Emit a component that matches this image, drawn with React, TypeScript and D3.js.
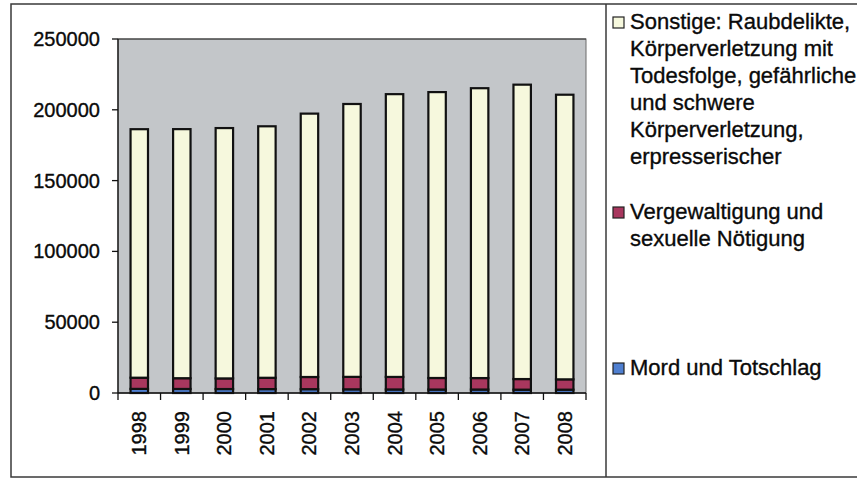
import React from "react";
import * as d3 from "d3";

const years = ["1998", "1999", "2000", "2001", "2002", "2003", "2004", "2005", "2006", "2007", "2008"];
const mord = [2900, 2850, 2800, 2750, 2700, 2600, 2500, 2450, 2450, 2350, 2350];
const vergewaltigung = [7900, 7600, 7500, 8000, 8600, 8800, 8850, 8150, 8100, 7500, 7300];
const sonstige = [175500, 175900, 176800, 177600, 186000, 192700, 199700, 201900, 204700, 207900, 201000];
const yTicks = [0, 50000, 100000, 150000, 200000, 250000];
const seriesKeys = ["mord", "vergewaltigung", "sonstige"];
const seriesColors: Record<string, string> = {
  mord: "#4f7fd0",
  vergewaltigung: "#a8375e",
  sonstige: "#f6f8dd",
};
const legendItems = [
  {
    key: "sonstige",
    lines: [
      "Sonstige: Raubdelikte,",
      "Körperverletzung mit",
      "Todesfolge, gefährliche",
      "und schwere",
      "Körperverletzung,",
      "erpresserischer",
    ],
  },
  { key: "vergewaltigung", lines: ["Vergewaltigung und", "sexuelle Nötigung"] },
  { key: "mord", lines: ["Mord und Totschlag"] },
];

const W = 857;
const H = 479;
const plot = { left: 118, right: 586, top: 39, bottom: 393 };
const FONT = "'Liberation Sans', Arial, Helvetica, sans-serif";

export default function App() {
  const rows = years.map((y, i) => ({
    year: y,
    mord: mord[i],
    vergewaltigung: vergewaltigung[i],
    sonstige: sonstige[i],
  }));
  const stacked = d3.stack<any>().keys(seriesKeys)(rows);

  const x = d3.scaleBand<string>().domain(years).range([plot.left, plot.right]).padding(0);
  const y = d3.scaleLinear().domain([0, 250000]).range([plot.bottom, plot.top]);
  const barW = x.bandwidth() * 0.41;

  const legendStartX = 613;
  const lineH = 27;
  const legendBaselines = [29, 219, 375];
  const textStyle = { fill: "#0a0a0a", stroke: "#0a0a0a", strokeWidth: 0.35 };

  return (
    <svg
      width={W}
      height={H}
      style={{ position: "absolute", left: 0, top: 0, background: "#ffffff" }}
      fontFamily={FONT}
    >
      <rect x={0} y={0} width={W} height={H} fill="#ffffff" />
      {/* outer frame */}
      <rect x={11} y={4} width={850} height={473} fill="none" stroke="#3a3a3a" strokeWidth={1.5} />
      <line x1={606} x2={606} y1={4} y2={477} stroke="#3a3a3a" strokeWidth={1.5} />

      {/* plot area */}
      <rect
        x={plot.left}
        y={plot.top}
        width={plot.right - plot.left}
        height={plot.bottom - plot.top}
        fill="#c3c6c9"
        stroke="#6a6a6a"
        strokeWidth={1}
      />
      <line x1={plot.left} x2={plot.right} y1={plot.top} y2={plot.top} stroke="#333" strokeWidth={1.2} />

      {/* bars */}
      {stacked.map((s) => (
        <g key={s.key}>
          {s.map((d, i) => (
            <rect
              key={i}
              x={(x(years[i]) as number) + (x.bandwidth() - barW) / 2}
              y={y(d[1])}
              width={barW}
              height={Math.max(0, y(d[0]) - y(d[1]))}
              fill={seriesColors[s.key]}
              stroke="#111"
              strokeWidth={2.2}
            />
          ))}
        </g>
      ))}

      {/* y axis */}
      <line x1={plot.left} x2={plot.left} y1={plot.top} y2={plot.bottom} stroke="#111" strokeWidth={1.3} />
      {yTicks.map((t) => (
        <g key={t}>
          <line x1={plot.left - 6} x2={plot.left} y1={y(t)} y2={y(t)} stroke="#111" strokeWidth={1.3} />
          <text
            x={100}
            y={y(t)}
            textAnchor="end"
            dominantBaseline="central"
            fontSize={20}
            {...textStyle}
          >
            {t}
          </text>
        </g>
      ))}

      {/* x axis */}
      <line x1={plot.left} x2={plot.right} y1={plot.bottom} y2={plot.bottom} stroke="#111" strokeWidth={1.3} />
      {years.concat(["__end"]).map((yr, i) => {
        const xx = i < years.length ? (x(yr) as number) : plot.right;
        return (
          <line key={"t" + i} x1={xx} x2={xx} y1={plot.bottom} y2={plot.bottom + 7} stroke="#111" strokeWidth={1.3} />
        );
      })}
      {years.map((yr) => {
        const cx = (x(yr) as number) + x.bandwidth() / 2;
        return (
          <text
            key={yr}
            transform={`translate(${cx},${411}) rotate(-90)`}
            textAnchor="end"
            dominantBaseline="central"
            fontSize={20}
            {...textStyle}
          >
            {yr}
          </text>
        );
      })}

      {/* legend */}
      {legendItems.map((item, k) => {
        const base = legendBaselines[k];
        return (
          <g key={item.key}>
            <rect
              x={legendStartX}
              y={base - 12}
              width={11}
              height={11}
              fill={seriesColors[item.key]}
              stroke="#222"
              strokeWidth={1.2}
            />
            {item.lines.map((ln, j) => (
              <text key={j} x={630} y={base + j * lineH} fontSize={22} {...textStyle}>
                {ln}
              </text>
            ))}
          </g>
        );
      })}
    </svg>
  );
}
